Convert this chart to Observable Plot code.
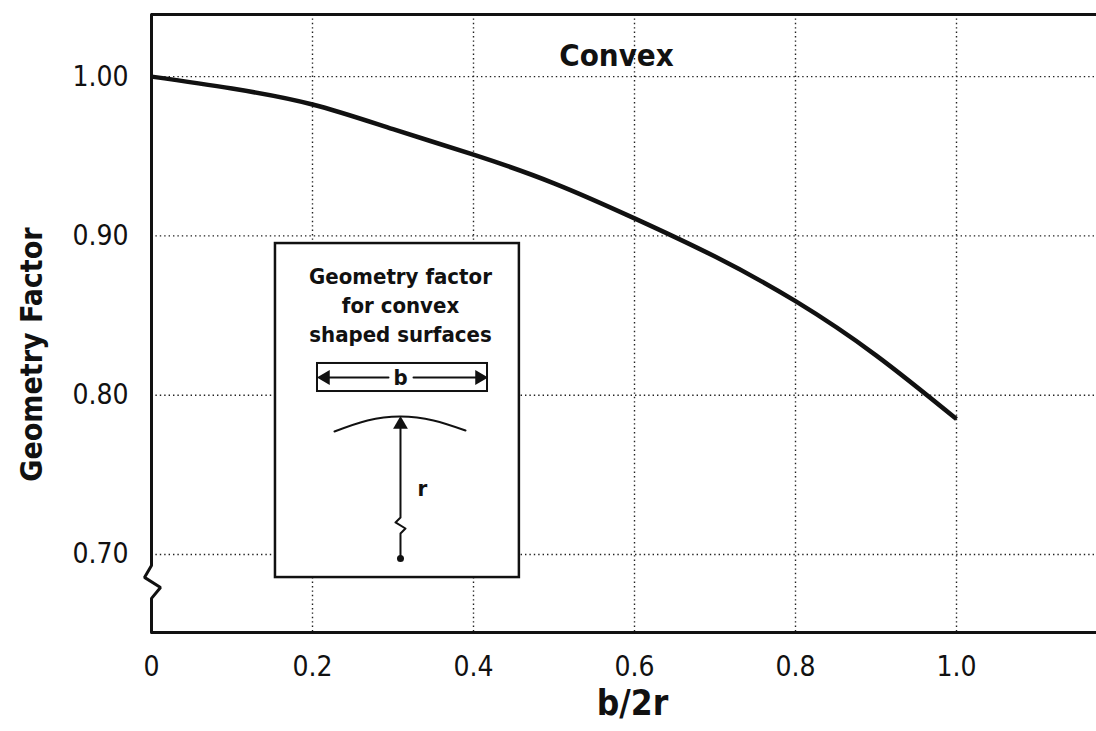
<!DOCTYPE html>
<html>
<head>
<meta charset="utf-8">
<script src="https://cdn.jsdelivr.net/npm/d3@7"></script>
<script src="https://cdn.jsdelivr.net/npm/@observablehq/plot@0.6"></script>
<style>
  html, body { margin: 0; padding: 0; background: #fff; overflow: hidden; }
  #chart svg { display: block; }
</style>
</head>
<body>
<div id="chart"></div>
<script>
// ---- data ----
const bOver2r = [0, 0.1, 0.2, 0.3, 0.4, 0.5, 0.6, 0.7, 0.8, 0.9, 1.0];
const geometryFactor = [1.000, 0.9925, 0.9825, 0.967, 0.951, 0.933, 0.911, 0.887, 0.859, 0.825, 0.785];

const xTicks = [0, 0.2, 0.4, 0.6, 0.8, 1.0];
const xTickLabels = ["0", "0.2", "0.4", "0.6", "0.8", "1.0"];
const yTicks = [0.70, 0.80, 0.90, 1.00];
const yTickLabels = ["0.70", "0.80", "0.90", "1.00"];

const titleText = "Convex";
const xLabelText = "b/2r";
const yLabelText = "Geometry Factor";
const insetText = "Geometry factor\nfor convex\nshaped surfaces";
const insetB = "b";
const insetR = "r";

// ---- layout / annotation geometry (data units) ----
const xDomain = [0, 1.1739];
const yDomain = [0.651, 1.039];
const axisBreak = [[0, 1.039], [0, 0.6931], [-0.0087, 0.6856], [0.0112, 0.6793], [0, 0.6724], [0, 0.651]];
const insetBox = {x1: 0.154, x2: 0.457, y1: 0.6855, y2: 0.8952};
const bBox = {x1: 0.2062, x2: 0.4174, y1: 0.8023, y2: 0.8199};
const arcPts = [[0.2273, 0.7772], [0.2683, 0.7841], [0.3093, 0.7866], [0.3503, 0.7841], [0.3901, 0.7778]];
const radiusPath = [[0.3093, 0.7816], [0.3093, 0.7232], [0.3031, 0.7201], [0.3155, 0.7163], [0.3093, 0.7132], [0.3093, 0.6975]];

const FONT = '"Liberation Sans Narrow", "DejaVu Sans Condensed", "Arial Narrow", sans-serif';
const INK = "#111";

const curveRows = bOver2r.map((x, i) => ({x, y: geometryFactor[i]}));
const toRows = pts => pts.map(([x, y]) => ({x, y}));

const plot = Plot.plot({
  width: 1096,
  height: 731,
  marginLeft: 151,
  marginRight: 0,
  marginTop: 14,
  marginBottom: 99,
  x: {domain: xDomain, axis: null},
  y: {domain: yDomain, axis: null},
  style: {fontFamily: FONT, background: "#fff", color: INK, overflow: "visible"},
  marks: [
    // dotted grid
    Plot.ruleX(xTicks.slice(1), {stroke: "#222", strokeWidth: 1.4, strokeDasharray: "1.4,3"}),
    Plot.ruleY(yTicks, {stroke: "#222", strokeWidth: 1.4, strokeDasharray: "1.4,3"}),
    // frame: top, bottom, left axis with break
    Plot.ruleY([yDomain[1]], {stroke: INK, strokeWidth: 3}),
    Plot.ruleY([yDomain[0]], {stroke: INK, strokeWidth: 3}),
    Plot.line(toRows(axisBreak), {x: "x", y: "y", stroke: INK, strokeWidth: 3, strokeLinejoin: "miter"}),
    // curve
    Plot.line(curveRows, {x: "x", y: "y", curve: "natural", stroke: INK, strokeWidth: 4.5, strokeLinecap: "butt"}),
    // tick labels
    Plot.text(xTicks, {x: d => d, frameAnchor: "bottom", dy: 35, text: (d, i) => xTickLabels[i], fontSize: 28, fill: INK, lineAnchor: "middle"}),
    Plot.text(yTicks, {y: d => d, frameAnchor: "left", dx: -23, textAnchor: "end", text: (d, i) => yTickLabels[i], fontSize: 28, fill: INK}),
    // axis labels & title
    Plot.text([xLabelText], {x: 0.5975, frameAnchor: "bottom", dy: 82, text: d => d, fontSize: 35, fontWeight: "bold", fill: INK}),
    Plot.text([yLabelText], {x: -0.1478, y: 0.8255, rotate: -90, text: d => d, fontSize: 30, fontWeight: "bold", fill: INK}),
    Plot.text([titleText], {x: 0.5776, y: 1.0126, text: d => d, fontSize: 31, fontWeight: "bold", fill: INK}),
    // inset
    Plot.rect([insetBox], {x1: "x1", x2: "x2", y1: "y1", y2: "y2", fill: "#fff", stroke: INK, strokeWidth: 2.5}),
    Plot.text([insetText], {x: 0.3093, y: 0.8575, text: d => d, fontSize: 22, fontWeight: "bold", lineHeight: 1.34, fill: INK}),
    Plot.rect([bBox], {x1: "x1", x2: "x2", y1: "y1", y2: "y2", fill: "#fff", stroke: INK, strokeWidth: 2}),
    Plot.line(toRows([[0.2161, 0.8111], [0.2944, 0.8111]]), {x: "x", y: "y", stroke: INK, strokeWidth: 2}),
    Plot.line(toRows([[0.3255, 0.8111], [0.4075, 0.8111]]), {x: "x", y: "y", stroke: INK, strokeWidth: 2}),
    Plot.dot(toRows([[0.2161, 0.8111]]), {x: "x", y: "y", symbol: "triangle", rotate: -90, r: 5.5, fill: INK}),
    Plot.dot(toRows([[0.4075, 0.8111]]), {x: "x", y: "y", symbol: "triangle", rotate: 90, r: 5.5, fill: INK}),
    Plot.text([insetB], {x: 0.3093, y: 0.8111, text: d => d, fontSize: 22, fontWeight: "bold", fill: INK}),
    Plot.line(toRows(arcPts), {x: "x", y: "y", curve: "natural", stroke: INK, strokeWidth: 2}),
    Plot.line(toRows(radiusPath), {x: "x", y: "y", stroke: INK, strokeWidth: 2}),
    Plot.dot(toRows([[0.3093, 0.7816]]), {x: "x", y: "y", symbol: "triangle", r: 5.5, fill: INK}),
    Plot.dot(toRows([[0.3093, 0.6975]]), {x: "x", y: "y", r: 3.5, fill: INK}),
    Plot.text([insetR], {x: 0.3366, y: 0.7414, text: d => d, fontSize: 22, fontWeight: "bold", fill: INK})
  ]
});
document.getElementById("chart").appendChild(plot);
</script>
</body>
</html>
